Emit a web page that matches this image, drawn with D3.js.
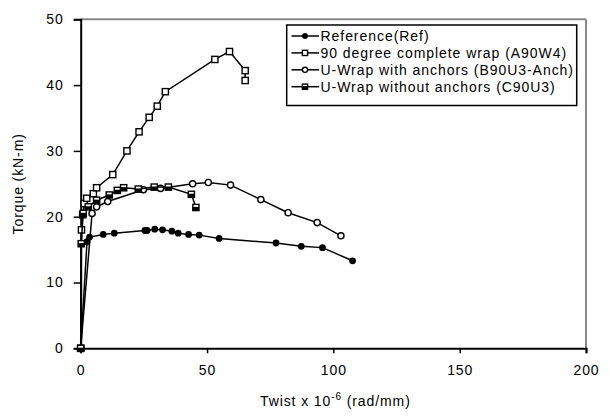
<!DOCTYPE html>
<html><head><meta charset="utf-8">
<script src="https://cdn.jsdelivr.net/npm/d3@7"></script>
<style>
body{margin:0;background:#fff;}
text{font-family:Arial,"Liberation Sans",sans-serif;fill:#000;}
</style></head>
<body><svg id="c" width="610" height="416"></svg>
<script>
const xTicks = [0, 50, 100, 150, 200];
const yTicks = [0, 10, 20, 30, 40, 50];
const seriesNames = ["Reference(Ref)", "90 degree complete wrap (A90W4)", "U-Wrap with anchors (B90U3-Anch)", "U-Wrap without anchors (C90U3)"];
const markers = ["dot", "square", "circle", "halfsquare"];

const refX = [0, 2.5, 3.5, 8.9, 13.3, 25.4, 26.3, 29.3, 32.4, 36.1, 38.6, 42.7, 46.9, 54.8, 77.3, 87.3, 95.7, 107.6];
const refY = [0, 16.2, 16.9, 17.3, 17.5, 17.9, 17.9, 18.1, 18.0, 17.8, 17.5, 17.3, 17.2, 16.7, 16.0, 15.5, 15.3, 13.3];

const a90X = [0, 0.3, 0.8, 1.4, 2.4, 5.0, 6.3, 12.7, 18.3, 23.1, 27.1, 30.3, 33.5, 53.1, 58.9, 65.1, 65.1];
const a90Y = [0, 18.0, 20.3, 22.0, 22.8, 23.5, 24.4, 26.4, 30.0, 32.9, 35.1, 36.8, 39.0, 43.9, 45.1, 42.2, 40.7];

const b90X = [0, 4.5, 6.3, 10.7, 24.8, 31.6, 44.3, 50.5, 59.3, 71.3, 82.1, 93.6, 103.0];
const b90Y = [0, 20.5, 21.5, 22.3, 24.1, 24.3, 25.0, 25.2, 24.8, 22.6, 20.6, 19.1, 17.1];

const c90X = [0, 0.2, 1.0, 3.0, 6.3, 11.3, 14.5, 17.0, 22.8, 29.1, 34.7, 43.8, 45.6];
const c90Y = [0, 15.9, 20.5, 21.5, 22.5, 23.3, 24.0, 24.4, 24.2, 24.5, 24.5, 23.4, 21.4];

const series = [[refX, refY], [a90X, a90Y], [b90X, b90Y], [c90X, c90Y]];

const svg = d3.select("#c");
const m = {l: 80.7, r: 586, t: 19.3, b: 348.3};
const x = d3.scaleLinear().domain([0, 200]).range([m.l, m.r]);
const y = d3.scaleLinear().domain([0, 50]).range([m.b, m.t]);

// gray frame top/right
svg.append("line").attr("x1", m.l).attr("x2", m.r).attr("y1", m.t).attr("y2", m.t).attr("stroke", "#888").attr("stroke-width", 2);
svg.append("line").attr("x1", m.r).attr("x2", m.r).attr("y1", m.t).attr("y2", m.b).attr("stroke", "#888").attr("stroke-width", 2);

const fontSize = "14px";
const ls = "0.9px";
const xAxis = svg.append("g").attr("transform", `translate(0,${m.b})`)
  .call(d3.axisBottom(x).tickValues(xTicks).tickSize(5).tickPadding(12).tickFormat(d3.format("d")));
const yAxis = svg.append("g").attr("transform", `translate(${m.l},0)`)
  .call(d3.axisLeft(y).tickValues(yTicks).tickSize(7).tickPadding(10).tickFormat(d3.format("d")));
[xAxis, yAxis].forEach(g => {
  g.select(".domain").attr("stroke", "#000").attr("stroke-width", 2);
  g.selectAll(".tick line").attr("stroke", "#000").attr("stroke-width", 1.5);
  g.selectAll("text").attr("font-size", fontSize).attr("font-family", "Arial, 'Liberation Sans', sans-serif").style("letter-spacing", ls);
});

// axis titles
const xt = svg.append("text").attr("x", (m.l + m.r) / 2 + 2).attr("y", 406).attr("text-anchor", "middle")
  .attr("font-size", fontSize).style("letter-spacing", ls);
xt.append("tspan").text("Twist x 10");
xt.append("tspan").attr("dy", -6).attr("font-size", "10px").text("-6");
xt.append("tspan").attr("dy", 6).text(" (rad/mm)");

svg.append("text").attr("transform", `translate(23,${(m.t + m.b) / 2}) rotate(-90)`).attr("text-anchor", "middle")
  .attr("font-size", fontSize).style("letter-spacing", ls).text("Torque (kN-m)");

const line = d3.line().x(d => x(d[0])).y(d => y(d[1]));

function drawMarker(g, type, cx, cy, s) {
  s = s || 3.1;
  if (type === "dot") {
    g.append("circle").attr("cx", cx).attr("cy", cy).attr("r", s + 0.3).attr("fill", "#000");
  } else if (type === "circle") {
    g.append("circle").attr("cx", cx).attr("cy", cy).attr("r", s).attr("fill", "#fff").attr("stroke", "#000").attr("stroke-width", 1.4);
  } else if (type === "square") {
    g.append("rect").attr("x", cx - s).attr("y", cy - s).attr("width", 2 * s).attr("height", 2 * s).attr("fill", "#fff").attr("stroke", "#000").attr("stroke-width", 1.4);
  } else {
    g.append("rect").attr("x", cx - s).attr("y", cy - s).attr("width", 2 * s).attr("height", 2 * s).attr("fill", "#fff").attr("stroke", "#000").attr("stroke-width", 1.4);
    g.append("rect").attr("x", cx - s).attr("y", cy - 0.6).attr("width", 2 * s).attr("height", s + 0.6).attr("fill", "#000");
  }
}

series.forEach((s, i) => {
  const pts = s[0].map((v, j) => [v, s[1][j]]);
  const g = svg.append("g");
  g.append("path").attr("d", line(pts)).attr("fill", "none").attr("stroke", "#000").attr("stroke-width", 1.5);
  pts.forEach(p => drawMarker(g, markers[i], x(p[0]), y(p[1])));
});

// legend
const lg = svg.append("g");
lg.append("rect").attr("x", 286.7).attr("y", 25).attr("width", 290).attr("height", 80.5).attr("fill", "#fff").attr("stroke", "#000").attr("stroke-width", 1.5);
seriesNames.forEach((n, i) => {
  const ly = 36 + i * 16.9;
  lg.append("line").attr("x1", 291.5).attr("x2", 319).attr("y1", ly).attr("y2", ly).attr("stroke", "#000").attr("stroke-width", 1.5);
  drawMarker(lg, markers[i], 305, ly, 2.6);
  lg.append("text").attr("x", 320.5).attr("y", ly + 5).attr("font-size", fontSize).style("letter-spacing", "0.95px").text(n);
});
</script></body></html>
